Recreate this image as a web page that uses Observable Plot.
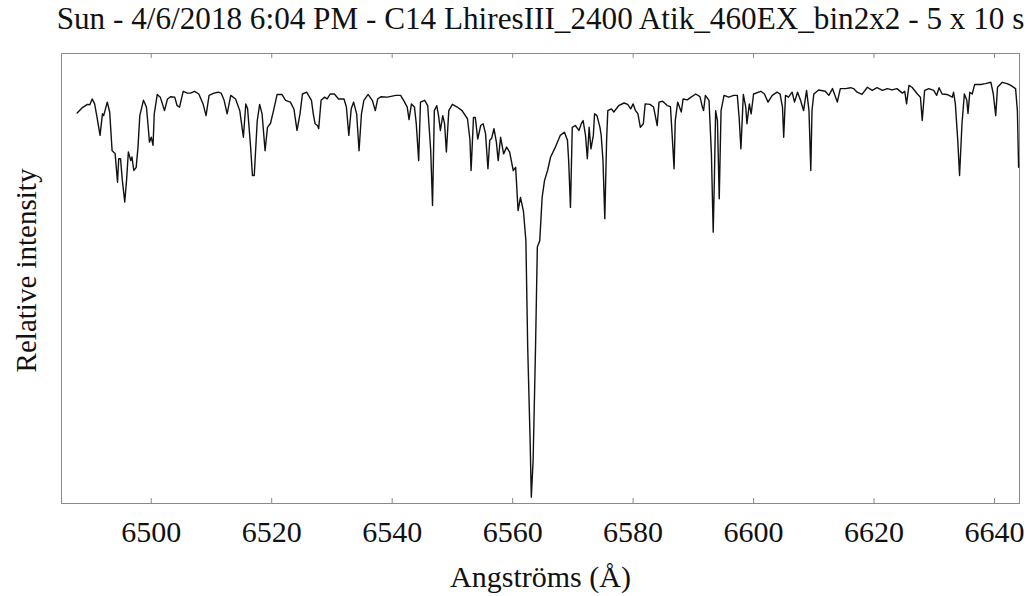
<!DOCTYPE html>
<html>
<head>
<meta charset="utf-8">
<script src="https://cdn.jsdelivr.net/npm/d3@7"></script>
<script src="https://cdn.jsdelivr.net/npm/@observablehq/plot@0.6"></script>
<style>
  html, body { margin: 0; padding: 0; background: #fff; }
</style>
</head>
<body>
<div id="chart"></div>
<script>
const title = "Sun - 4/6/2018 6:04 PM - C14 LhiresIII_2400 Atik_460EX_bin2x2 - 5 x 10 s";
const xLabel = "Angströms (Å)";
const yLabel = "Relative intensity";
const xTicks = [6500, 6520, 6540, 6560, 6580, 6600, 6620, 6640];

const wavelength = [
  6487.7, 6488.5, 6489.4, 6489.8, 6490.2, 6490.6, 6491.0, 6491.5, 6491.9, 6492.1,
  6492.7, 6493.1, 6493.5, 6494.0, 6494.4, 6494.6, 6494.9, 6495.2, 6495.6, 6495.9,
  6496.2, 6496.6, 6496.8, 6497.1, 6497.5, 6497.8, 6498.1, 6498.7, 6499.2, 6499.5,
  6499.7, 6500.0, 6500.3, 6500.5, 6501.0, 6501.5, 6502.2, 6502.7, 6503.2, 6503.9,
  6504.3, 6504.7, 6505.3, 6506.0, 6506.5, 6507.2, 6507.9, 6508.6, 6509.1, 6509.6,
  6510.4, 6511.1, 6511.6, 6512.1, 6512.6, 6513.2, 6514.0, 6514.7, 6515.1, 6515.3,
  6515.7, 6516.0, 6516.5, 6516.8, 6517.1, 6517.6, 6518.0, 6518.4, 6518.9, 6519.3,
  6519.8, 6520.3, 6520.9, 6521.7, 6522.3, 6523.1, 6523.7, 6524.2, 6524.7, 6525.1,
  6525.8, 6526.6, 6526.9, 6527.2, 6527.6, 6527.8, 6528.2, 6528.8, 6529.2, 6529.7,
  6530.4, 6531.1, 6532.0, 6532.4, 6532.8, 6533.2, 6533.6, 6534.1, 6534.5, 6534.9,
  6535.3, 6536.0, 6536.7, 6537.2, 6537.6, 6538.1, 6539.2, 6540.6, 6541.4, 6541.9,
  6542.5, 6542.8, 6543.2, 6543.7, 6544.0, 6544.4, 6544.7, 6545.4, 6545.9, 6546.4,
  6546.7, 6547.0, 6547.4, 6547.7, 6548.0, 6548.4, 6548.7, 6549.0, 6549.4, 6550.0,
  6550.8, 6551.6, 6552.5, 6552.9, 6553.1, 6553.5, 6553.8, 6554.2, 6554.7, 6555.1,
  6555.5, 6555.9, 6556.2, 6556.5, 6556.9, 6557.3, 6557.6, 6558.0, 6558.5, 6559.0,
  6559.5, 6560.1, 6560.5, 6560.9, 6561.3, 6561.8, 6562.2, 6562.5, 6562.9, 6563.1,
  6563.4, 6563.8, 6564.1, 6564.5, 6564.9, 6565.3, 6565.8, 6566.3, 6567.1, 6567.9,
  6568.6, 6569.1, 6569.3, 6569.6, 6569.9, 6570.4, 6571.0, 6571.4, 6571.7, 6572.1,
  6572.4, 6572.7, 6573.0, 6573.4, 6573.6, 6574.0, 6574.5, 6574.7, 6575.0, 6575.3,
  6575.6, 6575.8, 6576.4, 6576.8, 6577.6, 6578.5, 6579.1, 6579.6, 6580.0, 6580.4,
  6580.8, 6581.2, 6581.7, 6582.0, 6582.8, 6583.4, 6584.0, 6584.3, 6584.9, 6585.7,
  6586.2, 6586.6, 6586.8, 6587.0, 6587.4, 6588.0, 6588.3, 6589.0, 6589.5, 6590.4,
  6591.1, 6591.5, 6591.7, 6592.0, 6592.6, 6593.0, 6593.3, 6593.5, 6593.7, 6594.0,
  6594.3, 6594.6, 6595.1, 6595.9, 6596.7, 6597.3, 6597.6, 6597.9, 6598.3, 6598.7,
  6598.9, 6599.3, 6599.6, 6600.0, 6601.2, 6601.8, 6602.4, 6603.1, 6603.9, 6604.4,
  6604.8, 6605.0, 6605.3, 6605.8, 6606.4, 6606.8, 6607.3, 6607.8, 6608.3, 6608.8,
  6609.2, 6609.5, 6609.7, 6610.0, 6610.8, 6611.9, 6612.5, 6613.1, 6613.9, 6614.4,
  6615.3, 6616.1, 6616.6, 6617.2, 6618.0, 6618.9, 6619.7, 6620.5, 6621.4, 6622.2,
  6623.0, 6623.8, 6624.7, 6625.1, 6625.4, 6625.8, 6626.3, 6627.2, 6627.7, 6628.0,
  6628.4, 6629.1, 6629.9, 6630.4, 6630.8, 6631.3, 6632.1, 6633.0, 6633.2, 6633.5,
  6633.9, 6634.2, 6634.6, 6635.0, 6635.4, 6635.6, 6635.9, 6636.3, 6636.7, 6637.7,
  6638.5, 6639.4, 6639.8, 6640.2, 6640.5, 6641.3, 6642.1, 6642.7, 6643.5, 6643.8,
  6644.0
];

const intensity = [
  0.868, 0.879, 0.887, 0.886, 0.899, 0.888, 0.858, 0.818, 0.866, 0.862,
  0.892, 0.870, 0.784, 0.778, 0.714, 0.766, 0.766, 0.718, 0.670, 0.718,
  0.781, 0.762, 0.770, 0.740, 0.747, 0.792, 0.862, 0.896, 0.881, 0.836,
  0.803, 0.814, 0.796, 0.866, 0.909, 0.903, 0.873, 0.899, 0.904, 0.903,
  0.884, 0.881, 0.916, 0.912, 0.912, 0.916, 0.910, 0.888, 0.862, 0.907,
  0.912, 0.914, 0.912, 0.896, 0.866, 0.907, 0.899, 0.873, 0.833, 0.814,
  0.888, 0.877, 0.792, 0.729, 0.729, 0.851, 0.887, 0.866, 0.784, 0.836,
  0.845, 0.873, 0.909, 0.909, 0.896, 0.892, 0.876, 0.829, 0.866, 0.910,
  0.914, 0.896, 0.866, 0.844, 0.840, 0.833, 0.896, 0.903, 0.899, 0.910,
  0.910, 0.899, 0.899, 0.881, 0.818, 0.877, 0.892, 0.866, 0.784, 0.866,
  0.896, 0.909, 0.896, 0.873, 0.899, 0.904, 0.903, 0.907, 0.907, 0.896,
  0.881, 0.853, 0.888, 0.881, 0.844, 0.762, 0.892, 0.896, 0.884, 0.784,
  0.662, 0.873, 0.884, 0.862, 0.829, 0.862, 0.844, 0.781, 0.873, 0.887,
  0.881, 0.873, 0.855, 0.810, 0.740, 0.858, 0.858, 0.810, 0.840, 0.844,
  0.822, 0.744, 0.807, 0.811, 0.833, 0.803, 0.762, 0.814, 0.777, 0.792,
  0.781, 0.740, 0.747, 0.651, 0.680, 0.649, 0.584, 0.347, 0.140, 0.014,
  0.096, 0.347, 0.570, 0.584, 0.681, 0.718, 0.740, 0.770, 0.792, 0.818,
  0.825, 0.807, 0.762, 0.658, 0.836, 0.840, 0.829, 0.844, 0.851, 0.818,
  0.766, 0.836, 0.788, 0.818, 0.866, 0.862, 0.836, 0.818, 0.762, 0.633,
  0.807, 0.873, 0.877, 0.870, 0.884, 0.890, 0.887, 0.877, 0.888, 0.873,
  0.866, 0.836, 0.844, 0.888, 0.887, 0.881, 0.840, 0.892, 0.894, 0.884,
  0.882, 0.792, 0.744, 0.851, 0.892, 0.870, 0.899, 0.897, 0.902, 0.910,
  0.904, 0.881, 0.873, 0.907, 0.896, 0.777, 0.603, 0.725, 0.873, 0.851,
  0.677, 0.873, 0.907, 0.903, 0.907, 0.907, 0.858, 0.788, 0.909, 0.881,
  0.844, 0.888, 0.866, 0.910, 0.916, 0.910, 0.892, 0.907, 0.914, 0.910,
  0.881, 0.814, 0.907, 0.903, 0.914, 0.892, 0.914, 0.896, 0.873, 0.918,
  0.873, 0.740, 0.873, 0.910, 0.919, 0.916, 0.907, 0.922, 0.892, 0.922,
  0.922, 0.924, 0.922, 0.914, 0.909, 0.925, 0.918, 0.924, 0.918, 0.922,
  0.919, 0.922, 0.912, 0.916, 0.888, 0.929, 0.925, 0.910, 0.903, 0.851,
  0.918, 0.922, 0.918, 0.907, 0.924, 0.910, 0.909, 0.903, 0.914, 0.888,
  0.807, 0.729, 0.844, 0.910, 0.896, 0.867, 0.914, 0.910, 0.931, 0.931,
  0.933, 0.936, 0.910, 0.862, 0.925, 0.936, 0.933, 0.929, 0.922, 0.873,
  0.747
];

const spectrum = wavelength.map((w, i) => ({w, v: intensity[i]}));
const frameColor = "#8a8a8a";

const chart = Plot.plot({
  width: 1033,
  height: 596,
  marginTop: 53,
  marginBottom: 93,
  marginLeft: 61,
  marginRight: 14,
  style: {
    fontFamily: "'Liberation Serif', 'Times New Roman', serif",
    fontSize: "30px",
    background: "#fff",
    color: "#111"
  },
  x: {
    domain: [6485.1, 6644.15],
    ticks: xTicks,
    tickSize: 0,
    tickPadding: 17,
    tickFormat: d => String(d),
    label: null
  },
  y: {domain: [0, 1], axis: null},
  marks: [
    Plot.frame({stroke: frameColor}),
    Plot.ruleX(xTicks, {x: d => d, y1: 0, y2: 0.011, stroke: frameColor}),
    Plot.ruleX(xTicks, {x: d => d, y1: 0.989, y2: 1, stroke: frameColor}),
    Plot.line(spectrum, {x: "w", y: "v", stroke: "#111", strokeWidth: 1.4, strokeLinejoin: "round"}),
    Plot.text([title], {text: d => d, frameAnchor: "top", lineAnchor: "middle", textAnchor: "middle", dy: -34, fontSize: 31.2, fill: "#111"}),
    Plot.text([xLabel], {text: d => d, frameAnchor: "bottom", lineAnchor: "middle", textAnchor: "middle", dy: 74, fontSize: 30, fill: "#111"}),
    Plot.text([yLabel], {text: d => d, frameAnchor: "left", lineAnchor: "middle", textAnchor: "middle", rotate: -90, dx: -35, dy: -8, fontSize: 29, fill: "#111"})
  ]
});

document.getElementById("chart").appendChild(chart);
</script>
</body>
</html>
